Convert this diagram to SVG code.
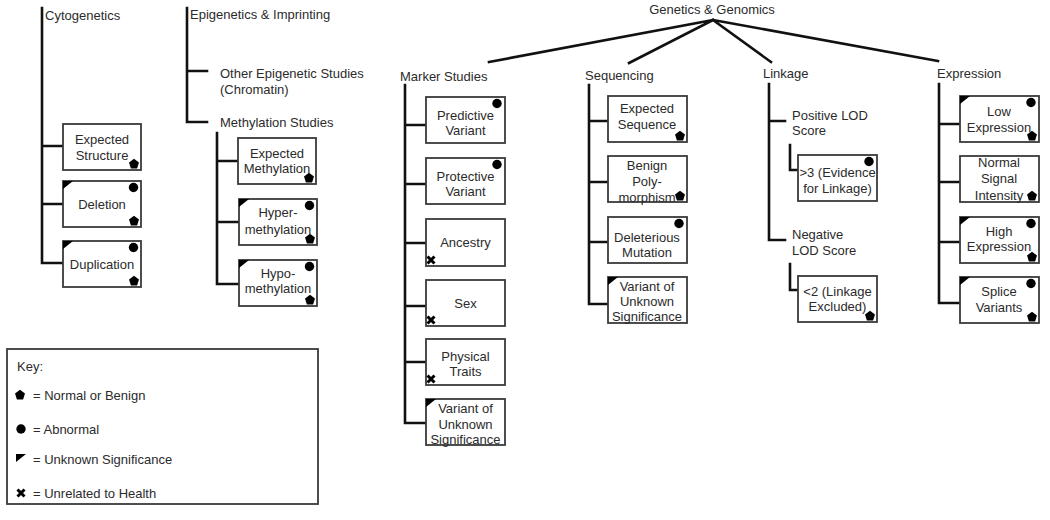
<svg xmlns="http://www.w3.org/2000/svg" width="1050" height="520" viewBox="0 0 1050 520">
<style>
  text { font-family: "Liberation Sans", Arial, sans-serif; font-size: 13px; fill: #2b2b2b; }
  .bt { text-anchor: middle; }
  .box { fill: #fff; stroke: #3a3a3a; stroke-width: 1.8; }
  .conn { fill: none; stroke: #111; stroke-width: 2.6; stroke-linecap: square; }
  .sym { fill: #000; }
  .xm { stroke: #000; stroke-width: 3; fill: none; }
</style>
<defs>
  <polygon id="pent" class="sym" points="0,-5.2 5,-1.5 3.1,4.4 -3.1,4.4 -5,-1.5"/>
  <circle id="dot" class="sym" cx="0" cy="0" r="4.7"/>
  <path id="tri" class="sym" d="M0,0 H10 L0,8 Z"/>
  <path id="xmark" class="xm" d="M-3.5,-3.5 L3.5,3.5 M3.5,-3.5 L-3.5,3.5"/>
</defs>
<rect width="1050" height="520" fill="#fff"/>

<g id="connectors" class="conn">
  <path d="M713,20 L489,62 M713,20 L629,63 M713,20 L771,62 M713,20 L938,61"/>
  <path d="M42,8 V263 H63 M42,146 H63 M42,204 H63"/>
  <path d="M187,8 V122 H207 M187,71 H207"/>
  <path d="M217,133 V284 H238 M217,161 H238 M217,222 H239"/>
  <path d="M405,85 V423 H426 M405,125 H426 M405,184 H426 M405,243 H426 M405,306 H426 M405,362 H426"/>
  <path d="M589,85 V304 H608 M589,121 H608 M589,182 H608 M589,242 H608"/>
  <path d="M769,84 V240 H785 M769,121 H785"/>
  <path d="M790,145 V170 H798 M790,264 V290 H798"/>
  <path d="M939,84 V303 H960 M939,124 H960 M939,182 H960 M939,242 H960"/>
</g>

<g id="root"><text x="712" y="13.5" class="bt">Genetics &amp; Genomics</text></g>
<g id="cytogenetics"><text x="45" y="19.5">Cytogenetics</text></g>
<g id="epigenetics"><text x="190" y="18.5">Epigenetics &amp; Imprinting</text></g>
<g id="other-epigenetic"><text x="220" y="77.5">Other Epigenetic Studies</text><text x="220" y="93.5">(Chromatin)</text></g>
<g id="methylation-studies"><text x="220" y="126.5">Methylation Studies</text></g>
<g id="marker-studies"><text x="400" y="80.5">Marker Studies</text></g>
<g id="sequencing"><text x="585" y="79.5">Sequencing</text></g>
<g id="linkage"><text x="763" y="77.5">Linkage</text></g>
<g id="expression"><text x="937" y="77.5">Expression</text></g>
<g id="positive-lod"><text x="792" y="119.5">Positive LOD</text><text x="792" y="134.5">Score</text></g>
<g id="negative-lod"><text x="792" y="238.5">Negative</text><text x="792" y="254.5">LOD Score</text></g>

<!-- Cytogenetics -->
<g id="expected-structure"><rect class="box" x="63" y="124" width="78" height="46"/>
  <text class="bt"><tspan x="102" y="143.5">Expected</tspan><tspan x="102" y="159.5">Structure</tspan></text>
  <use href="#pent" x="134" y="164"/></g>
<g id="deletion"><rect class="box" x="63" y="181" width="78" height="46"/>
  <text class="bt" x="102" y="208.5">Deletion</text>
  <use href="#tri" x="63" y="181"/><use href="#dot" x="133.5" y="187.5"/><use href="#pent" x="134" y="221"/></g>
<g id="duplication"><rect class="box" x="63" y="241" width="78" height="46"/>
  <text class="bt" x="102" y="268.5">Duplication</text>
  <use href="#tri" x="63" y="241"/><use href="#dot" x="133.5" y="247.5"/><use href="#pent" x="134" y="281"/></g>

<!-- Methylation -->
<g id="expected-methylation"><rect class="box" x="238" y="138" width="78" height="46"/>
  <text class="bt"><tspan x="277" y="157.5">Expected</tspan><tspan x="277" y="172.5">Methylation</tspan></text>
  <use href="#pent" x="309" y="178"/></g>
<g id="hypermethylation"><rect class="box" x="239" y="199" width="78" height="46"/>
  <text class="bt"><tspan x="278" y="216.5">Hyper-</tspan><tspan x="278" y="233.5">methylation</tspan></text>
  <use href="#tri" x="239" y="199"/><use href="#dot" x="309.5" y="205.5"/><use href="#pent" x="310" y="239"/></g>
<g id="hypomethylation"><rect class="box" x="239" y="260" width="78" height="46"/>
  <text class="bt"><tspan x="278" y="277.5">Hypo-</tspan><tspan x="278" y="292.5">methylation</tspan></text>
  <use href="#tri" x="239" y="260"/><use href="#dot" x="309.5" y="266.5"/><use href="#pent" x="310" y="300"/></g>

<!-- Marker studies -->
<g id="predictive-variant"><rect class="box" x="426" y="97" width="79" height="46"/>
  <text class="bt"><tspan x="465.5" y="119.5">Predictive</tspan><tspan x="465.5" y="134.5">Variant</tspan></text>
  <use href="#dot" x="497" y="103.5"/></g>
<g id="protective-variant"><rect class="box" x="426" y="158" width="79" height="46"/>
  <text class="bt"><tspan x="465.5" y="180.5">Protective</tspan><tspan x="465.5" y="195.5">Variant</tspan></text>
  <use href="#dot" x="497" y="164.5"/></g>
<g id="ancestry"><rect class="box" x="426" y="219" width="79" height="47"/>
  <text class="bt" x="465.5" y="246.5">Ancestry</text>
  <use href="#xmark" x="431" y="260"/></g>
<g id="sex"><rect class="box" x="426" y="280" width="79" height="46"/>
  <text class="bt" x="465.5" y="307.5">Sex</text>
  <use href="#xmark" x="431" y="320"/></g>
<g id="physical-traits"><rect class="box" x="426" y="339" width="79" height="46"/>
  <text class="bt"><tspan x="465.5" y="360.5">Physical</tspan><tspan x="465.5" y="375.5">Traits</tspan></text>
  <use href="#xmark" x="431" y="379"/></g>
<g id="vus-marker"><rect class="box" x="426" y="399" width="79" height="46"/>
  <text class="bt"><tspan x="465.5" y="412.5">Variant of</tspan><tspan x="465.5" y="429">Unknown</tspan><tspan x="465.5" y="443.5">Significance</tspan></text>
  <use href="#tri" x="426" y="399"/></g>

<!-- Sequencing -->
<g id="expected-sequence"><rect class="box" x="608" y="96" width="79" height="46"/>
  <text class="bt"><tspan x="647" y="112.5">Expected</tspan><tspan x="647" y="128.5">Sequence</tspan></text>
  <use href="#pent" x="680" y="136"/></g>
<g id="benign-polymorphism"><rect class="box" x="608" y="156" width="79" height="46"/>
  <text class="bt"><tspan x="647" y="169.5">Benign</tspan><tspan x="647" y="186">Poly-</tspan><tspan x="647" y="201.5">morphism</tspan></text>
  <use href="#pent" x="680" y="196"/></g>
<g id="deleterious-mutation"><rect class="box" x="608" y="217" width="79" height="46"/>
  <text class="bt"><tspan x="647" y="241.5">Deleterious</tspan><tspan x="647" y="256.5">Mutation</tspan></text>
  <use href="#dot" x="679" y="223.5"/></g>
<g id="vus-sequencing"><rect class="box" x="608" y="277" width="79" height="46"/>
  <text class="bt"><tspan x="647" y="290.5">Variant of</tspan><tspan x="647" y="306">Unknown</tspan><tspan x="647" y="321">Significance</tspan></text>
  <use href="#tri" x="608" y="277"/></g>

<!-- Linkage -->
<g id="lod-above-3"><rect class="box" x="798" y="155" width="79" height="46"/>
  <text class="bt"><tspan x="837.5" y="176.5">&gt;3 (Evidence</tspan><tspan x="837.5" y="192.5">for Linkage)</tspan></text>
  <use href="#dot" x="869" y="161.5"/></g>
<g id="lod-below-2"><rect class="box" x="798" y="276" width="79" height="46"/>
  <text class="bt"><tspan x="837.5" y="296">&lt;2 (Linkage</tspan><tspan x="837.5" y="311">Excluded)</tspan></text>
  <use href="#pent" x="870" y="316"/></g>

<!-- Expression -->
<g id="low-expression"><rect class="box" x="960" y="96" width="79" height="46"/>
  <text class="bt"><tspan x="999" y="116">Low</tspan><tspan x="999" y="131.5">Expression</tspan></text>
  <use href="#tri" x="960" y="96"/><use href="#dot" x="1031" y="102.5"/><use href="#pent" x="1032" y="136"/></g>
<g id="normal-signal"><rect class="box" x="960" y="156" width="79" height="46"/>
  <text class="bt"><tspan x="999" y="166.5">Normal</tspan><tspan x="999" y="183">Signal</tspan><tspan x="999" y="199.5">Intensity</tspan></text>
  <use href="#pent" x="1032" y="196"/></g>
<g id="high-expression"><rect class="box" x="960" y="217" width="79" height="46"/>
  <text class="bt"><tspan x="999" y="235.5">High</tspan><tspan x="999" y="250.5">Expression</tspan></text>
  <use href="#tri" x="960" y="217"/><use href="#dot" x="1031" y="223.5"/><use href="#pent" x="1032" y="257"/></g>
<g id="splice-variants"><rect class="box" x="960" y="277" width="79" height="46"/>
  <text class="bt"><tspan x="999" y="295.5">Splice</tspan><tspan x="999" y="311.5">Variants</tspan></text>
  <use href="#tri" x="960" y="277"/><use href="#dot" x="1031" y="283.5"/><use href="#pent" x="1032" y="317"/></g>

<!-- Key -->
<g id="key">
  <rect class="box" x="7" y="349" width="311" height="155"/>
  <text x="17" y="370.5">Key:</text>
  <use href="#pent" x="20" y="395"/><text x="33" y="399.5">= Normal or Benign</text>
  <use href="#dot" x="21" y="429"/><text x="33" y="433.5">= Abnormal</text>
  <use href="#tri" x="16" y="454"/><text x="33" y="464">= Unknown Significance</text>
  <use href="#xmark" x="21" y="493"/><text x="33" y="497.5">= Unrelated to Health</text>
</g>
</svg>
